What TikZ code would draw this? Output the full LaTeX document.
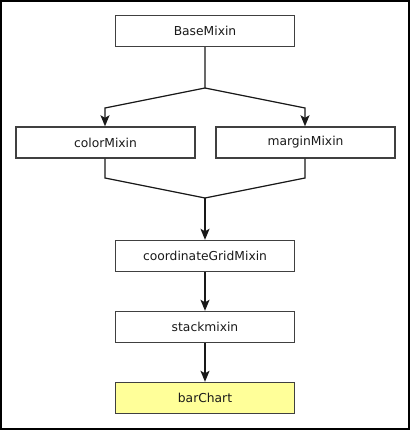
\documentclass[tikz,border=0pt]{standalone}
\usepackage{fontspec}
\setmainfont{DejaVu Sans}
\usetikzlibrary{arrows.meta}
\definecolor{boxline}{HTML}{404040}
\definecolor{chartfill}{HTML}{FFFF99}

\begin{document}
\begin{tikzpicture}[
    x=1pt, y=-1pt,
    mixin/.style={
        draw=boxline, line width=1.4pt, rectangle,
        minimum width=179pt, minimum height=31pt, inner sep=0pt,
        font=\fontsize{12.3}{14}\selectfont, text=black!90
      },
    target/.style={mixin, fill=chartfill},
    link/.style={draw=black!90, line width=1.2pt},
    arr/.style={link, -{Stealth[length=11pt,width=9pt,inset=2.5pt]}}
  ]

  % frame round the whole picture
  \draw[line width=2pt, black] (1,1) rectangle (409,429);
  \useasboundingbox (0,0) rectangle (410,430);

  % boxes
  \node[mixin] (base) at (205,31) {BaseMixin};
  \node[mixin] (color) at (105.5,142.5) {colorMixin};
  \node[mixin] (margin) at (305.5,142.5) {marginMixin};
  \node[mixin] (grid) at (205,256) {coordinateGridMixin};
  \node[mixin] (stack) at (205,327) {stackmixin};
  \node[target] (chart) at (205,398) {barChart};

  % fork below BaseMixin
  \coordinate (split) at (205,88);
  \coordinate (forkL) at (105,108);
  \coordinate (forkR) at (305,108);
  \draw[arr] (base) -- (split) -- (forkL) -- (color.north -| forkL);
  \draw[arr] (split) -- (forkR) -- (margin.north -| forkR);

  % join above coordinateGridMixin
  \coordinate (joinL) at (105,178);
  \coordinate (joinR) at (305,178);
  \coordinate (join) at (205,198);
  \draw[link] (color.south -| joinL) -- (joinL) -- (join);
  \draw[link] (margin.south -| joinR) -- (joinR) -- (join);
  \draw[arr] (join) -- (grid);

  % chain down to barChart
  \draw[arr] (grid) -- (stack);
  \draw[arr] (stack) -- (chart);
\end{tikzpicture}
\end{document}
